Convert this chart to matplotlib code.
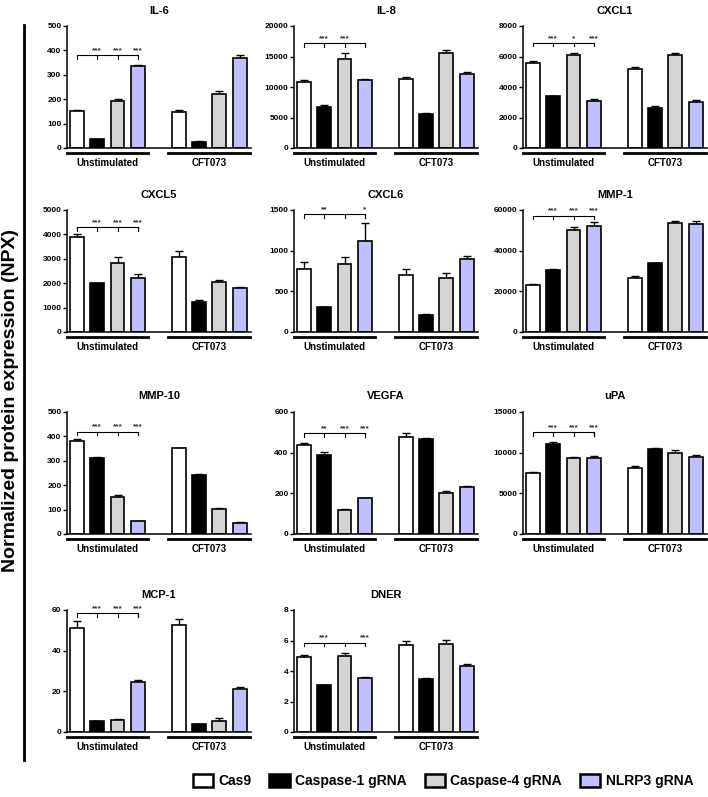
import matplotlib
matplotlib.use("Agg")
import matplotlib.pyplot as plt
from matplotlib.patches import Patch
import numpy as np

plt.rcParams['font.family'] = ['Liberation Sans', 'DejaVu Sans']
plt.rcParams['font.weight'] = 'bold'

# groups of bars: 4 conditions x 2 stimulations
conditions = ['Cas9', 'Caspase-1 gRNA', 'Caspase-4 gRNA', 'NLRP3 gRNA']
colors = ['white', 'black', '#d4d4d4', '#c0c0ff']
groups = ['Unstimulated', 'CFT073']

names = ['IL-6', 'IL-8', 'CXCL1', 'CXCL5', 'CXCL6', 'MMP-1',
         'MMP-10', 'VEGFA', 'uPA', 'MCP-1', 'DNER']
ymax = [500, 20000, 8000, 5000, 1500, 60000, 500, 600, 15000, 60, 8]
ystep = [100, 5000, 2000, 1000, 500, 20000, 100, 200, 5000, 20, 2]

# first 4 = Unstimulated, last 4 = CFT073
il6 = [150, 35, 192, 337, 146, 25, 222, 370]
il6_err = [5, 3, 10, 4, 8, 3, 12, 10]
il8 = [10900, 6650, 14650, 11150, 11250, 5600, 15600, 12100]
il8_err = [200, 350, 900, 200, 350, 150, 400, 300]
cxcl1 = [5600, 3380, 6080, 3080, 5200, 2620, 6080, 3030]
cxcl1_err = [80, 60, 120, 150, 120, 130, 120, 130]
cxcl5 = [3910, 2000, 2830, 2230, 3080, 1240, 2050, 1810]
cxcl5_err = [90, 0, 250, 150, 220, 80, 90, 30]
cxcl6 = [775, 305, 830, 1120, 705, 215, 660, 900]
cxcl6_err = [80, 6, 95, 225, 65, 6, 65, 30]
mmp1 = [22900, 30600, 50400, 52300, 26500, 33700, 53800, 53000]
mmp1_err = [900, 400, 1100, 1900, 1000, 400, 1000, 1700]
mmp10 = [382, 310, 150, 53, 351, 242, 103, 46]
mmp10_err = [7, 4, 8, 2, 3, 3, 2, 2]
vegfa = [440, 390, 120, 175, 477, 467, 200, 230]
vegfa_err = [6, 12, 5, 1, 20, 3, 10, 8]
upa = [7500, 11050, 9300, 9330, 8150, 10450, 9950, 9430]
upa_err = [150, 250, 150, 250, 150, 130, 350, 300]
mcp1 = [51.2, 5.2, 6.0, 24.5, 52.4, 3.7, 5.4, 21.3]
mcp1_err = [3.3, 0.3, 0.5, 1.2, 3.0, 0.3, 1.3, 0.6]
dner = [4.93, 3.08, 4.98, 3.57, 5.72, 3.46, 5.8, 4.3]
dner_err = [0.12, 0.03, 0.18, 0.03, 0.28, 0.05, 0.23, 0.15]

values = [il6, il8, cxcl1, cxcl5, cxcl6, mmp1, mmp10, vegfa, upa, mcp1, dner]
errors = [il6_err, il8_err, cxcl1_err, cxcl5_err, cxcl6_err, mmp1_err,
          mmp10_err, vegfa_err, upa_err, mcp1_err, dner_err]

# significance bracket height and stars over bars 2..4 of the unstimulated group
bracket_y = [380, 17200, 6900, 4290, 1447, 57200, 420, 497, 12530, 58.4, 5.86]
stars = [['***', '***', '***'], ['***', '***', ''], ['***', '*', '***'],
         ['***', '***', '***'], ['**', '', '*'], ['***', '***', '***'],
         ['***', '***', '***'], ['**', '***', '***'], ['***', '***', '***'],
         ['***', '***', '***'], ['***', '', '***']]

W, H = 708, 797
fig = plt.figure(figsize=(W / 100, H / 100), dpi=100)

row_top = [26, 210, 412, 610]
col_left = [67, 294, 523]
ax_w, ax_h = 184, 122

xpos = np.array([0, 1, 2, 3, 5, 6, 7, 8])

for i, name in enumerate(names):
    r, c = divmod(i, 3)
    ax = fig.add_axes([col_left[c] / W, 1 - (row_top[r] + ax_h) / H, ax_w / W, ax_h / H])
    vals = np.array(values[i])
    errs = np.array(errors[i])
    ax.bar(xpos, vals, width=0.68, color=colors * 2, edgecolor='black',
           linewidth=1.2, zorder=2)
    ax.errorbar(xpos, vals, yerr=[np.zeros(8), errs], fmt='none', ecolor='black',
                elinewidth=1, capsize=2.7, capthick=1, zorder=1)
    ax.set_xlim(-0.48, 8.55)
    ax.set_ylim(0, ymax[i])
    ax.set_yticks(np.arange(0, ymax[i] + ystep[i] / 2, ystep[i]))
    ax.set_xticks([])
    ax.tick_params(axis='y', labelsize=6, length=3, width=1, pad=1)
    for lab in ax.get_yticklabels():
        lab.set_fontweight('bold')
    ax.spines['top'].set_visible(False)
    ax.spines['right'].set_visible(False)
    ax.spines['left'].set_linewidth(1.1)
    ax.spines['bottom'].set_linewidth(1.1)
    ax.set_title(name, fontsize=8, fontweight='bold', pad=9)

    # group underlines and labels
    tr = ax.get_xaxis_transform()
    for g, start in enumerate([0, 5]):
        ax.plot([start - 0.5, start + 3.5], [-0.04, -0.04], color='black', lw=2,
                transform=tr, clip_on=False)
        ax.text(start + 1.5, -0.08, groups[g], transform=tr, ha='center', va='top',
                fontsize=7, fontweight='bold')

    # significance bracket
    y = bracket_y[i]
    d = ymax[i] * 0.03
    ax.plot([0, 0, 3, 3], [y - d, y, y, y - d], color='black', lw=0.8)
    for k, s in enumerate(stars[i]):
        ax.plot([k + 1, k + 1], [y, y - d], color='black', lw=0.8)
        if s:
            ax.text(k + 1, y + ymax[i] * 0.008, s, ha='center', va='bottom',
                    fontsize=6, color='#333333')

# shared y label with vertical rule
fig.text(11 / W, 1 - 400 / H, 'Normalized protein expression (NPX)', rotation=90,
         ha='center', va='center', fontsize=14, fontweight='bold')
fig.add_artist(plt.Line2D([24 / W, 24 / W], [1 - 25 / H, 1 - 760 / H],
                          color='black', lw=2))

handles = [Patch(facecolor=col, edgecolor='black', linewidth=1.8) for col in colors]
fig.legend(handles, conditions, loc='center', ncol=4,
           bbox_to_anchor=(443 / W, 1 - 781 / H), frameon=False,
           prop={'size': 10, 'weight': 'bold'}, handlelength=1.45, handleheight=1.1,
           columnspacing=1.3, handletextpad=0.4)

fig.savefig('out.png', dpi=100)
